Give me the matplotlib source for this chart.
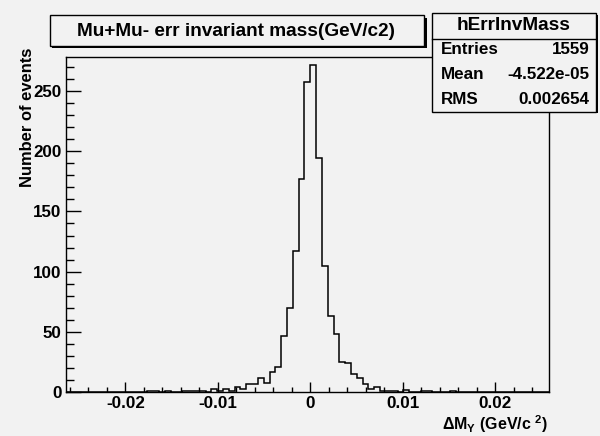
import numpy as np
import matplotlib
matplotlib.use("Agg")
import matplotlib.pyplot as plt
from matplotlib.patches import Rectangle
from matplotlib.lines import Line2D

plt.rcParams['font.family'] = ['Liberation Sans', 'DejaVu Sans']
plt.rcParams['font.weight'] = 'bold'
plt.rcParams['mathtext.fontset'] = 'custom'
plt.rcParams['mathtext.rm'] = 'Liberation Sans:bold'
plt.rcParams['mathtext.bf'] = 'Liberation Sans:bold'
plt.rcParams['mathtext.it'] = 'Liberation Sans:bold'
plt.rcParams['mathtext.default'] = 'rm'

# ---- data ----
bin_width = 0.000629
first_bin_index = -42          # bin k spans [k*w, (k+1)*w]
n_bins = 83
counts = [0, 0, 0, 0, 0, 0, 0, 0, 0, 0, 0, 0, 0, 0,          # k=-42..-29
          1, 1, 0, 1, 0, 0, 1, 1, 1, 1,                       # k=-28..-19
          0, 3, 1, 3, 1, 4, 3, 7, 7, 12,                      # k=-18..-9
          8, 17, 21, 47, 70, 117, 177, 257,                   # k=-8..-1
          271, 194, 105, 63, 48, 25, 24, 15, 12, 7,           # k=0..9
          3, 4, 1, 1, 1, 0, 2, 0, 0, 1,                       # k=10..19
          1, 0, 0, 0, 1,                                      # k=20..24
          0, 0, 0, 0, 0, 0, 0, 0, 0, 0, 0, 0, 0, 0, 0, 0]     # k=25..40
x_range = (-0.02638, 0.02581)
y_range = (0, 278)
x_ticks = [-0.02, -0.01, 0.0, 0.01, 0.02]
x_tick_labels = ['-0.02', '-0.01', '0', '0.01', '0.02']
y_ticks = [0, 50, 100, 150, 200, 250]
y_tick_labels = ['0', '50', '100', '150', '200', '250']
title = 'Mu+Mu- err invariant mass(GeV/c2)'
hist_name = 'hErrInvMass'
stats_labels = ['Entries', 'Mean', 'RMS']
stats_values = ['1559', '-4.522e-05', '0.002654']
x_label = r'$\Delta$M$_{\Upsilon}$ (GeV/c $^{2}$)'
y_label = 'Number of events'

edges = bin_width * (first_bin_index + np.arange(n_bins + 1))

W, H = 600, 436
BG = '#f2f2f2'
fig = plt.figure(figsize=(W / 100, H / 100), dpi=100, facecolor=BG)

def fx(x):
    return x / W

def fy(y):
    return 1 - y / H

L, R, T, B = 66.3, 549.0, 57.0, 392.3
ax = fig.add_axes([fx(L), fy(B), fx(R) - fx(L), fy(T) - fy(B)])
ax.set_facecolor(BG)
ax.stairs(counts, edges, color='black', linewidth=1.1, baseline=0)
ax.set_xlim(*x_range)
ax.set_ylim(*y_range)

for s in ax.spines.values():
    s.set_linewidth(1.0)
    s.set_color('black')

pt = 72 / 100
ax.set_xticks(x_ticks)
ax.set_xticklabels(x_tick_labels, fontsize=17 * pt, fontweight='bold')
ax.set_xticks(np.arange(-0.026, 0.0259, 0.002), minor=True)
ax.set_yticks(y_ticks)
ax.set_yticklabels(y_tick_labels, fontsize=17 * pt, fontweight='bold')
ax.set_yticks(np.arange(0, 278, 10), minor=True)
ax.tick_params(axis='x', which='major', direction='in', length=10 * pt, width=1, pad=2.5)
ax.tick_params(axis='x', which='minor', direction='in', length=5 * pt, width=1)
ax.tick_params(axis='y', which='major', direction='in', length=15 * pt, width=1, pad=3.3)
ax.tick_params(axis='y', which='minor', direction='in', length=7.5 * pt, width=1)

# axis titles
fig.text(fx(548), fy(424), x_label, ha='right', va='center', fontsize=16 * pt, fontweight='bold')
fig.text(fx(28), fy(48), y_label, ha='center', va='top', rotation=90, fontsize=16.5 * pt, fontweight='bold')

def box(x0, y0, x1, y1, shadow=3):
    fig.add_artist(Rectangle((fx(x0 + shadow), fy(y1 + shadow)), fx(x1 - x0), fy(y0) - fy(y1),
                             transform=fig.transFigure, facecolor='black', edgecolor='black', lw=0))
    fig.add_artist(Rectangle((fx(x0), fy(y1)), fx(x1 - x0), fy(y0) - fy(y1),
                             transform=fig.transFigure, facecolor=BG, edgecolor='black', lw=1))

# title box
box(49.8, 15.3, 424, 46, shadow=2.5)
fig.text(fx(236), fy(31), title, ha='center', va='center', fontsize=19 * pt, fontweight='bold')

# stats box
box(431.7, 13.3, 595.5, 111.5, shadow=2)
fig.add_artist(Line2D([fx(431.7), fx(595.5)], [fy(39), fy(39)], transform=fig.transFigure,
                      color='black', lw=1))
fig.text(fx(513.5), fy(26), hist_name, ha='center', va='center', fontsize=19 * pt, fontweight='bold')
for i, (lab, val) in enumerate(zip(stats_labels, stats_values)):
    yy = 50 + 24.7 * i
    fig.text(fx(440.7), fy(yy), lab, ha='left', va='center', fontsize=17 * pt, fontweight='bold')
    fig.text(fx(589.3), fy(yy), val, ha='right', va='center', fontsize=17 * pt, fontweight='bold')

fig.savefig('out.png', dpi=100, facecolor=BG)
